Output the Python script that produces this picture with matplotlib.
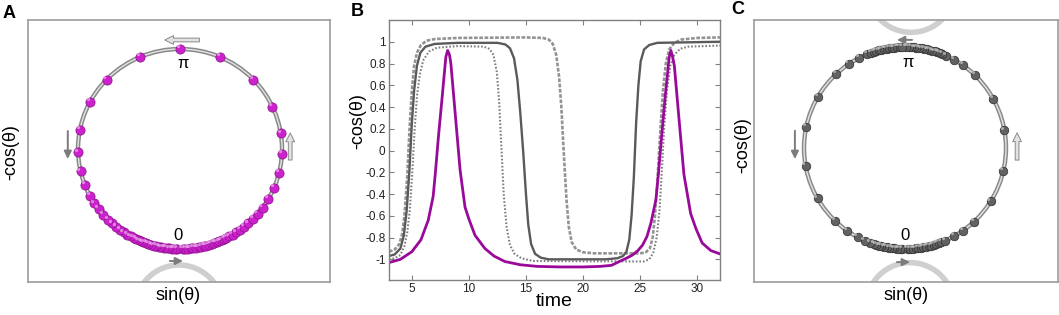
import numpy as np
import matplotlib.pyplot as plt
from matplotlib.patches import Circle, Ellipse

plt.rcParams['font.family'] = ['Liberation Sans', 'DejaVu Sans']

# ---- panel B: -cos(theta) against time ----
t_purple = [3.0, 4.0, 5.0, 5.8, 6.44, 6.87, 7.05, 7.35, 7.63, 7.98, 8.14, 8.3, 8.42, 8.8,
            9.23, 9.66, 10.0, 10.54, 11.4, 12.2, 13.15, 14.5, 16.0, 18.0, 20.0, 21.5, 22.5,
            23.18, 23.8, 24.34, 24.8, 25.21, 25.6, 25.94, 26.38, 26.6, 26.9, 27.2, 27.55,
            27.7, 27.85, 28.0, 28.4, 28.84, 29.43, 29.9, 30.44, 31.2, 32.0]
y_purple = [-1.03, -1.0, -0.93, -0.82, -0.64, -0.42, -0.22, 0.15, 0.46, 0.86, 0.92, 0.88, 0.80, 0.34,
            -0.18, -0.52, -0.63, -0.78, -0.90, -0.97, -1.02, -1.05, -1.065, -1.07, -1.07, -1.065, -1.055,
            -1.02, -0.99, -0.96, -0.92, -0.87, -0.79, -0.67, -0.455, -0.22, 0.15, 0.5, 0.86,
            0.92, 0.86, 0.78, 0.3, -0.22, -0.58, -0.72, -0.85, -0.92, -0.95]

t_dashdot = [3.0, 3.5, 3.9, 4.15, 4.35, 4.58, 4.8, 5.0, 5.2, 5.45, 5.8, 6.3, 7.0, 9.0, 15.0, 16.5,
             17.0, 17.35, 17.65, 17.9, 18.1, 18.3, 18.55, 18.75, 19.0, 19.4, 20.0, 21.0, 25.0, 25.5,
             25.85, 26.1, 26.3, 26.5, 26.75, 27.0, 27.25, 27.55, 28.0, 28.6, 30.0, 32.0]
y_dashdot = [-0.93, -0.91, -0.86, -0.77, -0.6, -0.27, 0.2, 0.55, 0.78, 0.9, 0.97, 1.01, 1.025, 1.035, 1.04, 1.035,
             1.02, 0.98, 0.88, 0.68, 0.4, 0.0, -0.45, -0.7, -0.84, -0.91, -0.935, -0.945, -0.945, -0.935,
             -0.9, -0.8, -0.6, -0.3, 0.15, 0.55, 0.8, 0.93, 0.99, 1.02, 1.035, 1.04]

t_solid = [3.0, 3.5, 4.0, 4.3, 4.55, 4.78, 5.0, 5.2, 5.45, 5.75, 6.2, 7.0, 9.0, 12.5, 13.2, 13.6,
           13.95, 14.25, 14.5, 14.75, 15.0, 15.2, 15.45, 15.8, 16.3, 17.0, 22.0, 23.0, 23.5, 23.8,
           24.05, 24.25, 24.45, 24.65, 24.85, 25.05, 25.35, 25.8, 26.5, 32.0]
y_solid = [-0.97, -0.955, -0.9, -0.78, -0.55, -0.2, 0.25, 0.55, 0.78, 0.9, 0.955, 0.98, 0.99, 0.99, 0.975, 0.94,
           0.85, 0.65, 0.35, 0.0, -0.4, -0.68, -0.86, -0.95, -0.985, -1.0, -1.0, -0.99, -0.97, -0.93,
           -0.82, -0.6, -0.25, 0.25, 0.6, 0.82, 0.93, 0.97, 0.99, 1.0]

t_dotted = [3.0, 3.5, 4.0, 4.35, 4.6, 4.82, 5.04, 5.25, 5.45, 5.7, 6.0, 6.5, 7.2, 9.0, 11.3, 11.8,
            12.15, 12.45, 12.65, 12.86, 13.05, 13.3, 13.6, 14.0, 14.6, 15.6, 25.3, 25.8, 26.15, 26.45,
            26.7, 26.9, 27.1, 27.35, 27.65, 28.0, 28.5, 29.2, 32.0]
y_dotted = [-1.0, -0.99, -0.96, -0.88, -0.75, -0.55, -0.2, 0.2, 0.5, 0.7, 0.83, 0.91, 0.945, 0.96, 0.955, 0.935,
            0.88, 0.72, 0.45, 0.0, -0.4, -0.7, -0.87, -0.95, -0.99, -1.015, -1.02, -1.0, -0.94, -0.8,
            -0.55, -0.2, 0.2, 0.55, 0.78, 0.88, 0.935, 0.955, 0.965]

x_ticks = [5, 10, 15, 20, 25, 30]
y_ticks = [-1, -0.8, -0.6, -0.4, -0.2, 0, 0.2, 0.4, 0.6, 0.8, 1]
y_ticklabels = ['-1', '-0.8', '-0.6', '-0.4', '-0.2', '0', '0.2', '0.4', '0.6', '0.8', '1']

# ---- panels A and C: bead angles theta (degrees) on the ring ----
A_right = [1.5, 3, 4.5, 6, 7.5, 9, 10.5, 12, 13.5, 15, 16.5, 18, 19.5, 21, 22.5, 24, 25.5, 27,
           29, 31, 33.5, 36, 39, 42, 45.5, 49.5, 54, 60, 67, 76, 87, 99, 115, 134, 157, 180]
A_left = [358.5, 357, 355.5, 354, 352.5, 351, 349.5, 348, 346.5, 345, 343.5, 342, 340.5, 339,
          337.5, 336, 334.5, 333, 331, 329, 326.5, 324, 321, 318, 315, 311, 307, 303, 298, 291,
          283, 272, 259, 242, 226, 203]
C_right = [1.5, 3, 4.5, 6, 7.5, 9, 10.5, 12, 13.5, 15, 16.5, 18, 19.5, 21, 23.5, 29, 35, 43, 58,
           77, 100, 119, 136, 145, 151, 156, 158.5, 160, 161.5, 163, 164.5, 166, 167.5, 169,
           170.5, 172, 173.5, 175, 176.5, 178, 179.5]
C_left = [358.5, 357, 355.5, 354, 352.5, 351, 349.5, 348, 346.5, 345, 343.5, 342, 340, 336.5,
          332, 325, 316, 300, 280, 258, 239.5, 223, 214, 207, 202, 199.5, 198, 196.5, 195, 193.5,
          192, 190.5, 189, 187.5, 186, 184.5, 183, 181.5]

W, H = 1059, 315
fig = plt.figure(figsize=(W / 100, H / 100), dpi=100)


def box(x0, y0, x1, y1):
    return [x0 / W, 1 - y1 / H, (x1 - x0) / W, (y1 - y0) / H]


def ftext(x, y, s, **kw):
    fig.text(x / W, 1 - y / H, s, ha='center', va='center', **kw)


def arrow(ax, start, end, hollow):
    if hollow:
        props = dict(arrowstyle='simple,head_length=0.7,head_width=0.7,tail_width=0.3',
                     fc='#e2e2e2', ec='#8a8a8a', lw=0.7, shrinkA=0, shrinkB=0, mutation_scale=9)
    else:
        props = dict(arrowstyle='-|>,head_length=0.45,head_width=0.22', color='#7c7c7c',
                     lw=1.4, shrinkA=0, shrinkB=0)
    ax.annotate('', xy=end, xytext=start, arrowprops=props)


def ring(ax, angles, size, bead, edge, shine):
    ax.add_patch(Circle((0, 0), 1, fill=False, ec='#8a8a8a', lw=3.2, zorder=1))
    ax.add_patch(Circle((0, 0), 1, fill=False, ec='#e4e4e4', lw=1.0, zorder=1))
    th = np.radians(angles)
    x, y = np.sin(th), -np.cos(th)
    ax.scatter(x, y, s=size, c=bead, edgecolors=edge, linewidths=0.5, zorder=3)
    ax.scatter(x - 0.022, y + 0.028, s=size * 0.13, c=shine, linewidths=0, alpha=0.6, zorder=4)
    for sp in ax.spines.values():
        sp.set_color('#9c9c9c')
        sp.set_linewidth(1.2)
    ax.set_xticks([])
    ax.set_yticks([])


# ---- A ----
axA = fig.add_axes(box(28, 20, 330, 282))
axA.set_xlim(-1.49, 1.47)
axA.set_ylim(-1.33, 1.29)
axA.add_patch(Ellipse((-0.01, -1.6), 0.86, 0.88, fill=False, ec='#cfcfcf', lw=4.0, zorder=0))
ring(axA, A_right + A_left, 44, '#cc22cc', '#8c0e8c', '#f6c4f6')
axA.text(0.03, 0.85, 'π', fontsize=12, ha='center', va='center')
axA.text(-0.02, -0.87, '0', fontsize=12, ha='center', va='center')
arrow(axA, (0.19, 1.09), (-0.15, 1.09), True)
arrow(axA, (-1.10, 0.18), (-1.10, -0.10), False)
arrow(axA, (1.08, -0.11), (1.08, 0.16), True)
arrow(axA, (-0.10, -1.12), (0.03, -1.12), False)

# ---- B ----
axB = fig.add_axes(box(389, 20, 720, 280))
axB.plot(t_dashdot, y_dashdot, color='#939393', lw=1.9, ls=(0, (1.4, 0.6)))
axB.plot(t_solid, y_solid, color='#5a5a5a', lw=1.7)
axB.plot(t_dotted, y_dotted, color='#7e7e7e', lw=1.5, ls=(0, (0.8, 0.9)))
axB.plot(t_purple, y_purple, color='#9a0a9a', lw=2.0)
axB.set_xlim(3, 32)
axB.set_ylim(-1.19, 1.2)
axB.set_xticks(x_ticks)
axB.set_yticks(y_ticks)
axB.set_yticklabels(y_ticklabels)
axB.tick_params(direction='in', length=3.5, width=0.8, color='#808080', labelsize=8.5,
                labelcolor='#222222', top=True, right=True, pad=2.5)
for sp in axB.spines.values():
    sp.set_color('#808080')
    sp.set_linewidth(1.0)

# ---- C ----
axC = fig.add_axes(box(754, 20, 1058, 282))
axC.set_xlim(-1.495, 1.515)
axC.set_ylim(-1.327, 1.267)
axC.add_patch(Ellipse((0.05, -1.57), 0.87, 0.87, fill=False, ec='#cfcfcf', lw=4.0, zorder=0))
axC.add_patch(Ellipse((0.06, 1.58), 0.87, 0.87, fill=False, ec='#cfcfcf', lw=4.0, zorder=0))
ring(axC, C_right + C_left, 38, '#626262', '#2e2e2e', '#dedede')
axC.text(0.03, 0.85, 'π', fontsize=12, ha='center', va='center')
axC.text(0.0, -0.87, '0', fontsize=12, ha='center', va='center')
arrow(axC, (0.07, 1.07), (-0.08, 1.07), False)
arrow(axC, (-0.08, -1.13), (0.05, -1.13), False)
arrow(axC, (-1.09, 0.17), (-1.09, -0.11), False)
arrow(axC, (1.11, -0.12), (1.11, 0.15), True)

# ---- labels ----
ftext(9, 14, 'A', fontsize=13, fontweight='bold')
ftext(357, 12, 'B', fontsize=13, fontweight='bold')
ftext(738, 10, 'C', fontsize=13, fontweight='bold')
ftext(11, 152, '-cos(θ)', fontsize=13, rotation=90)
ftext(358, 121, '-cos(θ)', fontsize=13, rotation=90)
ftext(743, 145, '-cos(θ)', fontsize=13, rotation=90)
ftext(178, 295, 'sin(θ)', fontsize=13)
ftext(554, 301, 'time', fontsize=14)
ftext(906, 296, 'sin(θ)', fontsize=13)

fig.savefig('out.png', dpi=100)
